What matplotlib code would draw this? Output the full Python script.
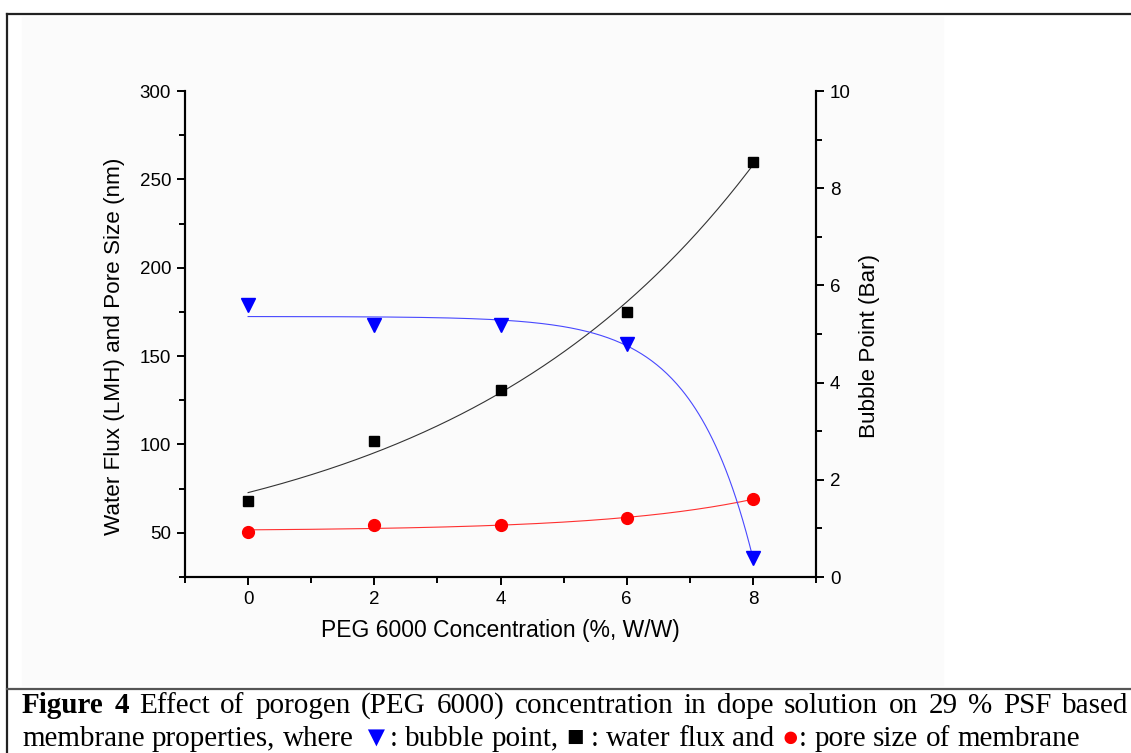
import matplotlib
matplotlib.use("Agg")
import matplotlib.pyplot as plt
from matplotlib.lines import Line2D
from matplotlib.patches import Rectangle
from matplotlib.ticker import MultipleLocator
import numpy as np

# values
peg = np.array([0, 2, 4, 6, 8])
water_flux = np.array([68, 102, 131, 175, 260])
pore_size = np.array([50.4, 54.2, 54.2, 58.3, 69.1])
bubble_point = np.array([5.59, 5.19, 5.19, 4.79, 0.39])

x_ticks = [0, 2, 4, 6, 8]
left_ticks = [50, 100, 150, 200, 250, 300]
right_ticks = [0, 2, 4, 6, 8, 10]

W, H = 1131, 753


def exp_fit(x, y):
    """Least squares fit y = y0 + A*exp(x/t), grid over t."""
    best = None
    for t in np.linspace(0.2, 40, 4000):
        m = np.column_stack([np.ones_like(x, dtype=float), np.exp(x / t)])
        coef = np.linalg.lstsq(m, y, rcond=None)[0]
        sse = np.sum((m @ coef - y) ** 2)
        if best is None or sse < best[0]:
            best = (sse, coef, t)
    _, coef, t = best
    return lambda xx: coef[0] + coef[1] * np.exp(xx / t)


def fx(px):
    return px / W


def fy(py):
    return 1 - py / H


def main():
    plt.rcParams["font.family"] = ["Liberation Sans", "DejaVu Sans"]
    fig = plt.figure(figsize=(W / 100, H / 100), dpi=100)

    # faint panel + frame lines
    fig.add_artist(Rectangle((fx(22), fy(685)), fx(943) - fx(22), fy(17) - fy(685),
                             transform=fig.transFigure, color="#fbfbfb", zorder=0))
    for xs, ys, c in [((7, W), (14, 14), "#222222"),
                      ((7, 7), (14, H), "#222222"),
                      ((7, W), (689, 689), "#555555")]:
        fig.add_artist(Line2D([fx(v) for v in xs], [fy(v) for v in ys],
                              transform=fig.transFigure, color=c, lw=1.6))

    ax = fig.add_axes([fx(185), fy(577), fx(816) - fx(185), fy(91) - fy(577)])
    ax.set_facecolor("none")
    ax2 = ax.twinx()

    xx = np.linspace(0, 8, 300)
    flux_fit = exp_fit(peg, water_flux)
    pore_fit = exp_fit(peg, pore_size)
    bp_fit = exp_fit(peg, bubble_point)

    ax.plot(xx, flux_fit(xx), color="#333333", lw=0.8)
    ax.plot(xx, pore_fit(xx), color="#ff3030", lw=0.8)
    ax.plot(peg, water_flux, "s", color="black", ms=7.5, ls="none")
    ax.plot(peg, pore_size, "o", color="#ff0000", ms=8.5, ls="none")

    ax2.plot(xx, bp_fit(xx), color="#4848ff", lw=0.8)
    ax2.plot(peg, bubble_point, "v", color="#0000ff", ms=10, ls="none")

    ax.set_xlim(-1, 9)
    ax.set_ylim(25, 300)
    ax2.set_ylim(0, 10)
    ax.set_xticks(x_ticks)
    ax.set_yticks(left_ticks)
    ax2.set_yticks(right_ticks)
    ax.xaxis.set_minor_locator(MultipleLocator(1))
    ax.yaxis.set_minor_locator(MultipleLocator(25))
    ax2.yaxis.set_minor_locator(MultipleLocator(1))

    for a in (ax, ax2):
        a.spines["top"].set_visible(False)
        for s in a.spines.values():
            s.set_linewidth(1.5)
        a.tick_params(which="major", direction="out", length=6, width=1.4,
                      labelsize=13.5, pad=4)
        a.tick_params(which="minor", direction="out", length=4, width=1.4)

    ax.set_xlabel("PEG 6000 Concentration (%, W/W)", fontsize=16.5, labelpad=8)
    ax.set_ylabel("Water Flux (LMH) and Pore Size (nm)", fontsize=16.2)
    ax2.set_ylabel("Bubble Point (Bar)", fontsize=16.2)
    ax.yaxis.set_label_coords(-0.095, 0.475)
    ax2.yaxis.set_label_coords(1.068, 0.475)

    # caption
    serif = ["Liberation Serif", "DejaVu Serif", "DejaVu Sans"]
    fs = 21
    renderer = fig.canvas.get_renderer()

    def width_of(s, **kw):
        t = fig.text(0, 0, s, fontsize=fs, family=serif, **kw)
        w = t.get_window_extent(renderer).width
        t.remove()
        return w

    space = width_of("a a") - width_of("aa")

    line1 = [("Figure", "bold"), ("4", "bold")] + [
        (w, "normal") for w in
        "Effect of porogen (PEG 6000) concentration in dope solution on 29 % PSF based".split()]
    widths = [width_of(w, weight=wt) for w, wt in line1]
    gap = max(space, (1128 - 22 - sum(widths)) / (len(line1) - 1))
    x = 22
    for (w, wt), wd in zip(line1, widths):
        fig.text(fx(x), fy(713), w, fontsize=fs, family=serif, weight=wt,
                 va="baseline", ha="left")
        x += wd + gap

    line2 = [[("membrane", "black")], [("properties,", "black")], [("where", "black")],
             [("\u25bc", "#0000ff"), (":", "black")], [("bubble", "black")],
             [("point,", "black")], [("\u25a0", "black")], [(":", "black")],
             [("water", "black")], [("flux", "black")], [("and", "black")],
             [("\u25cf", "#ff0000"), (":", "black")], [("pore", "black")],
             [("size", "black")], [("of", "black")], [("membrane", "black")]]
    x = 22
    for token in line2:
        for s, c in token:
            fig.text(fx(x), fy(746), s, fontsize=fs, family=serif, color=c,
                     va="baseline", ha="left")
            x += width_of(s)
        x += space

    fig.savefig("out.png", dpi=100)


if __name__ == "__main__":
    main()
